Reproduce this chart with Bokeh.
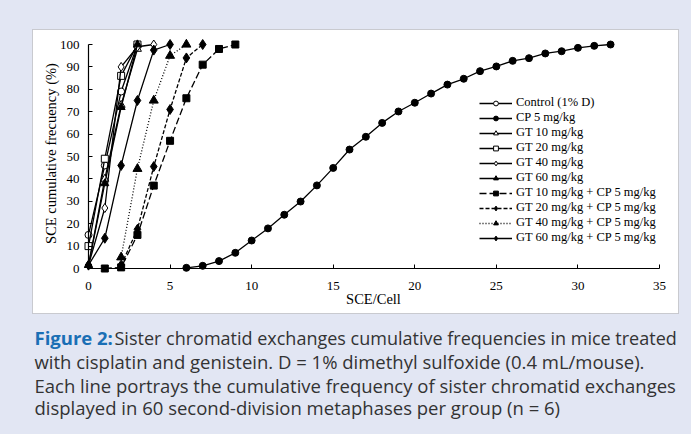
import math
from bokeh.plotting import figure
from bokeh.models import BoxAnnotation, Label, Legend, LegendItem, FixedTicker, Range1d
from bokeh.embed import file_html
from bokeh.resources import INLINE

# ---------------- data ----------------
series_names = ["Control (1% D)", "CP 5 mg/kg", "GT 10 mg/kg", "GT 20 mg/kg", "GT 40 mg/kg",
                "GT 60 mg/kg", "GT 10 mg/kg + CP 5 mg/kg", "GT 20 mg/kg + CP 5 mg/kg",
                "GT 40 mg/kg + CP 5 mg/kg", "GT 60 mg/kg + CP 5 mg/kg"]

control_x = [0, 1, 2, 3]
control_y = [15, 46, 79, 100]
cp5_x = [6, 7, 8, 9, 10, 11, 12, 13, 14, 15, 16, 17, 18, 19, 20, 21, 22, 23, 24, 25, 26, 27, 28, 29, 30, 31, 32]
cp5_y = [0.3, 1.2, 3.3, 7.0, 12.5, 17.9, 24.0, 29.9, 37.1, 44.9, 53.1, 58.8, 65.0, 70.1, 74.0,
         78.1, 82.1, 84.7, 88.1, 90.2, 92.7, 93.9, 96.0, 97.0, 98.5, 99.4, 100]
gt10_x = [0, 1, 2, 3]
gt10_y = [1.5, 40, 73, 98]
gt20_x = [0, 1, 2, 3]
gt20_y = [10, 49, 86, 100]
gt40_x = [0, 1, 2, 3, 4]
gt40_y = [1.5, 27, 90, 99, 100]
gt60_x = [0, 1, 2, 3]
gt60_y = [1.5, 38, 72, 100]
gt10cp_x = [1, 2, 3, 4, 5, 6, 7, 8, 9]
gt10cp_y = [0, 0.5, 15, 37, 57, 76, 91, 98, 100]
gt20cp_x = [2, 3, 4, 5, 6, 7]
gt20cp_y = [1.5, 17.5, 45.5, 71, 94, 100]
gt40cp_x = [2, 3, 4, 5, 6]
gt40cp_y = [5, 44.5, 75, 95, 100]
gt60cp_x = [0, 1, 2, 3, 4, 5]
gt60cp_y = [1.5, 13.5, 46, 75, 97.5, 100]

x_ticks = [0, 5, 10, 15, 20, 25, 30, 35]
y_ticks = [0, 10, 20, 30, 40, 50, 60, 70, 80, 90, 100]

x_label = "SCE/Cell"
y_label = "SCE cumulative frecuency (%)"
caption_head = "Figure 2:"
caption_lines = ["Sister chromatid exchanges cumulative frequencies in mice treated",
                 "with cisplatin and genistein. D = 1% dimethyl sulfoxide (0.4 mL/mouse).",
                 "Each line portrays the cumulative frequency of sister chromatid exchanges",
                 "displayed in 60 second-division metaphases per group (n = 6)"]

# ---------------- layout (page pixels) ----------------
BG = "#e2e6f3"
W, H = 691, 434
FL, FT = 30, 22            # frame left / top; frame runs to the right and bottom edges
X0PX, X35PX = 88, 659      # page px of x=0 and x=35
Y0PX, Y100PX = 268, 44     # page px of y=0 and y=100
kx = (X35PX - X0PX) / 35.0
ky = (Y0PX - Y100PX) / 100.0

x_range = Range1d(-(X0PX - FL) / kx, 35 + (W - X35PX) / kx)
y_range = Range1d(-(H - Y0PX) / ky, 100 + (Y100PX - FT) / ky)

p = figure(width=W, height=H, output_backend="svg", toolbar_location=None, title=None,
           x_range=x_range, y_range=y_range, x_axis_location="above",
           min_border_left=FL, min_border_right=0, min_border_top=FT, min_border_bottom=0)
p.border_fill_color = BG
p.background_fill_color = BG
p.outline_line_color = None
p.xgrid.visible = False
p.ygrid.visible = False


def sx(px):  # page x -> screen units (from frame left)
    return px - FL


def sy(py):  # page y -> screen units (up from frame bottom)
    return H - py


SERIF = "Liberation Serif"

# white panel with frame
box = BoxAnnotation(left=sx(32), right=sx(678), top=sy(29), bottom=sy(313),
                    left_units="screen", right_units="screen", top_units="screen", bottom_units="screen",
                    fill_color="white", fill_alpha=1.0, line_color="#6e6e6e", line_width=1,
                    level="underlay")
p.add_layout(box)

for ax, ticks, bnds in ((p.xaxis[0], x_ticks, (0, 35)), (p.yaxis[0], y_ticks, (0, 100))):
    ax.ticker = FixedTicker(ticks=ticks)
    ax.bounds = bnds
    ax.fixed_location = 0
    ax.major_label_text_font = SERIF
    ax.major_label_text_font_size = "13px"
    ax.major_label_text_color = "black"
    ax.axis_line_color = "black"
    ax.axis_line_width = 1.2
    ax.major_tick_line_color = "black"
    ax.minor_tick_line_color = None
# x axis lives in the top panel: ticks point up (out), labels pushed below the line
p.xaxis[0].major_tick_out = 4
p.xaxis[0].major_tick_in = 0
p.xaxis[0].major_label_standoff = -25
p.yaxis[0].major_tick_in = 4
p.yaxis[0].major_tick_out = 0
p.yaxis[0].major_label_standoff = 9

p.add_layout(Label(x=sx(373), y=sy(298), x_units="screen", y_units="screen", text=x_label,
                   text_font=SERIF, text_font_size="14.5px", text_color="black",
                   text_align="center", text_baseline="middle"))
p.add_layout(Label(x=sx(50), y=sy(153), x_units="screen", y_units="screen", text=y_label,
                   angle=math.pi / 2, text_font=SERIF, text_font_size="14.5px", text_color="black",
                   text_align="center", text_baseline="middle"))

# ---------------- series ----------------
LW = 1.3
specs = [
    (control_x, control_y, "solid", "circle", "white", 7),
    (cp5_x, cp5_y, "solid", "circle", "black", 7),
    (gt10_x, gt10_y, "solid", "triangle", "white", 8),
    (gt20_x, gt20_y, "solid", "square", "white", 7),
    (gt40_x, gt40_y, "solid", "diamond", "white", 9),
    (gt60_x, gt60_y, "solid", "triangle", "black", 8),
    (gt10cp_x, gt10cp_y, "7 3", "square", "black", 7),
    (gt20cp_x, gt20cp_y, "4 2", "diamond", "black", 10),
    (gt40cp_x, gt40cp_y, "1 2", "triangle", "black", 9),
    (gt60cp_x, gt60cp_y, "solid", "diamond", "black", 10),
]

items = []
for name, (xs, ys, dash, marker, fill, size) in zip(series_names, specs):
    lr = p.line(xs, ys, line_color="black", line_width=LW, line_dash=dash)
    sr = p.scatter(xs, ys, marker=marker, size=size, fill_color=fill, line_color="black", line_width=1)
    items.append(LegendItem(label=name, renderers=[lr, sr]))

legend = Legend(items=items, location=(sx(479), sy(245)),
                border_line_color=None, background_fill_alpha=0, padding=0, margin=0,
                spacing=0, glyph_width=33, glyph_height=12, label_height=12, label_standoff=4,
                label_text_font=SERIF, label_text_font_size="12.5px", label_text_color="black")
p.add_layout(legend)

# ---------------- caption ----------------
CAP_FONT = "Open Sans"
cap_x = 34
cap_mid = [337, 361, 384.5, 407]
p.add_layout(Label(x=sx(cap_x), y=sy(cap_mid[0]), x_units="screen", y_units="screen", text=caption_head,
                   text_font=CAP_FONT, text_font_size="18.5px", text_font_style="bold",
                   text_color="#1a6fb5", text_baseline="middle", text_align="left"))
for i, line in enumerate(caption_lines):
    x0 = 114 if i == 0 else cap_x
    size = "18px" if i == 0 else "18.5px"
    p.add_layout(Label(x=sx(x0), y=sy(cap_mid[i]), x_units="screen", y_units="screen", text=line,
                       text_font=CAP_FONT, text_font_size=size, text_color="#333333",
                       text_baseline="middle", text_align="left"))

html = file_html(p, INLINE)
html = html.replace("<head>", "<head><style>html, body { background: %s; }</style>" % BG, 1)
open("out.html", "w").write(html)
